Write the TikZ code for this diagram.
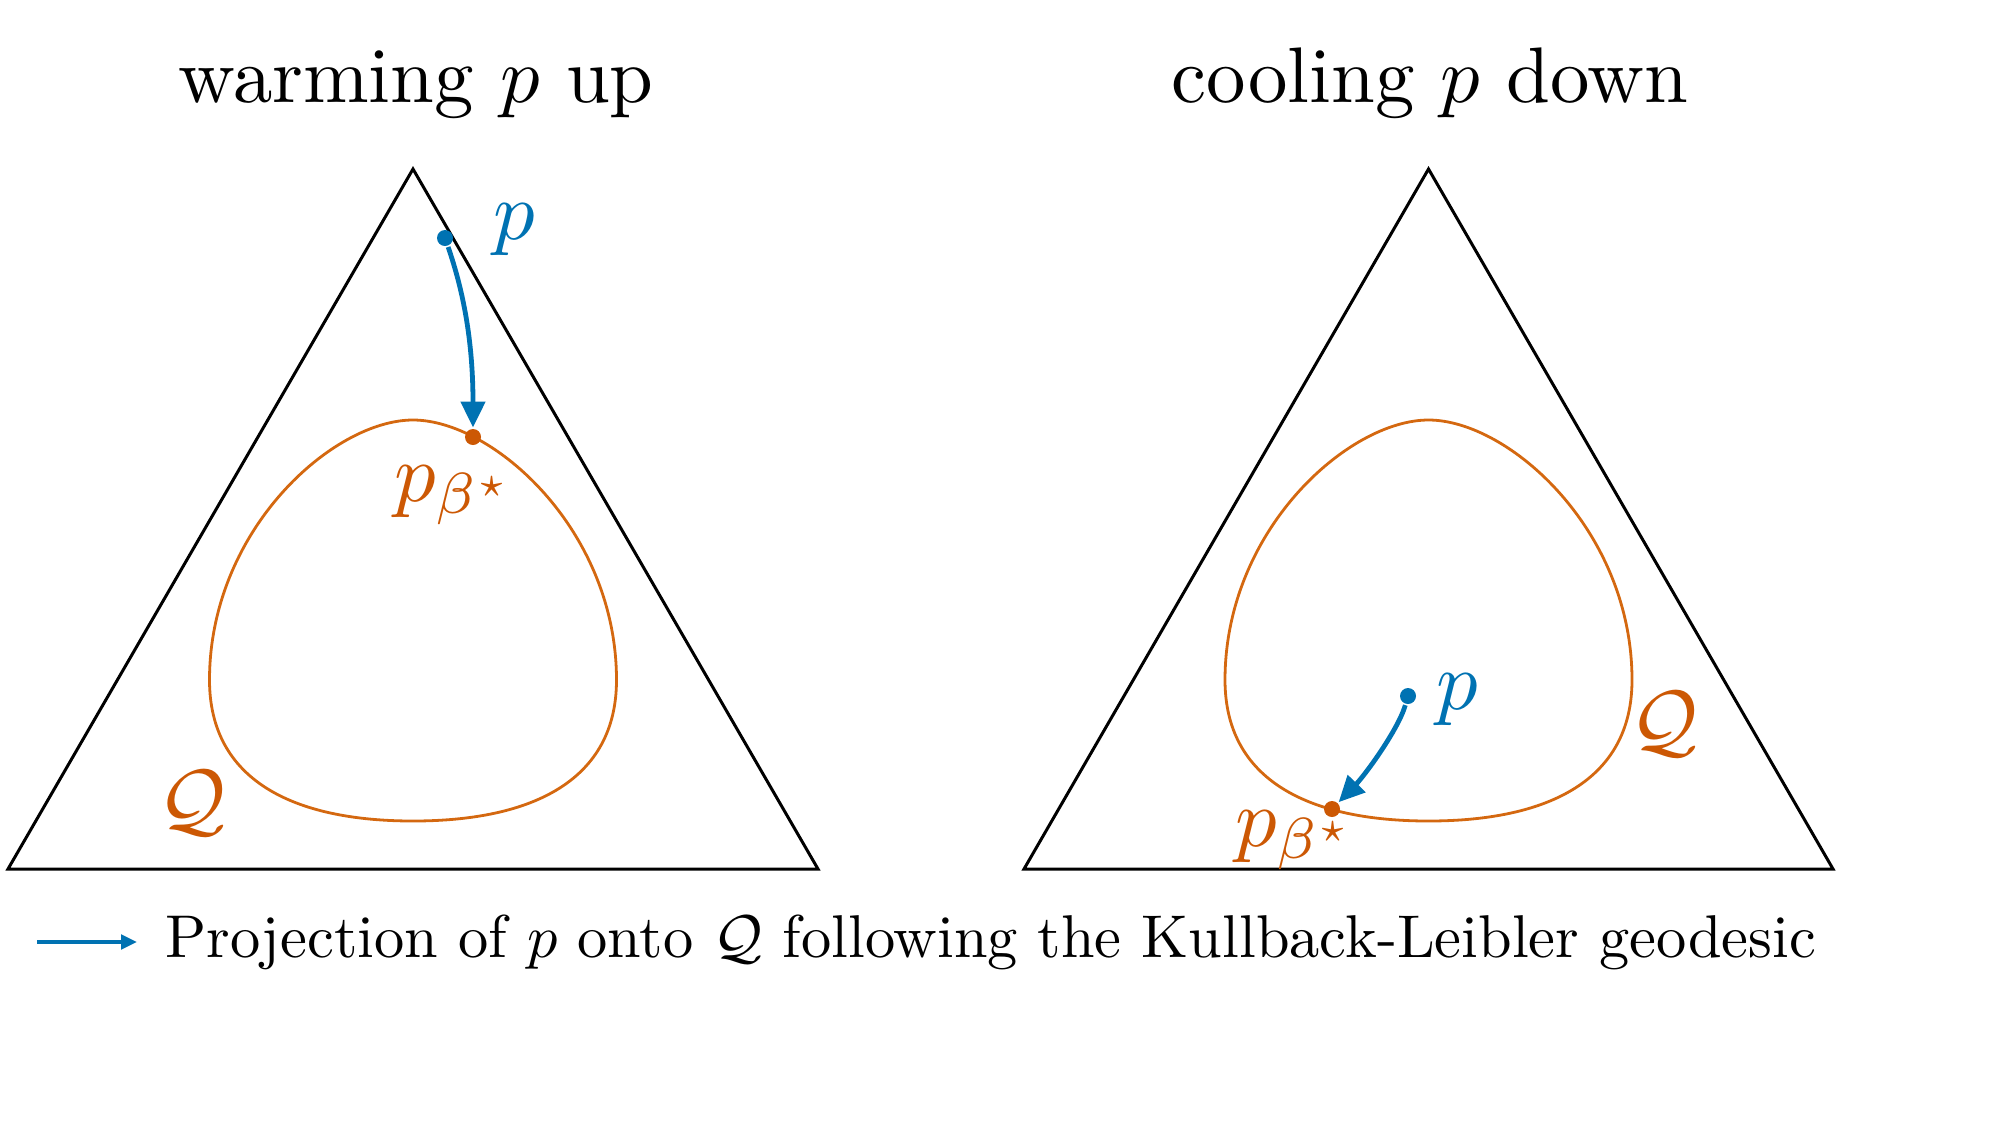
\documentclass[tikz,border=0pt]{standalone}
\usepackage{amsmath}
\usetikzlibrary{arrows.meta}
\definecolor{geoblue}{RGB}{0,114,178}
\definecolor{qorange}{RGB}{204,88,4}
\definecolor{qcurve}{RGB}{212,104,16}
\tikzset{
	dotnode/.style={circle,inner sep=0pt,minimum size=4pt},
	geoarrow/.style={geoblue,line width=1.2pt,-{Triangle[length=6.5pt,width=6pt]}},
	qloop/.style={qcurve,line width=0.7pt},
	biglabel/.style={font=\normalsize,scale=2.07,inner sep=0pt},
	titletext/.style={font=\normalsize,scale=1.97,inner sep=0pt,anchor=base}}
\tikzset{every picture/.style={line width=0.75pt}}

\begin{document}
\begin{tikzpicture}[x=0.25pt,y=0.25pt,yscale=-1,xscale=1]
	\useasboundingbox (0,0) rectangle (2000,1125);

	%Titles
	\node[titletext] (warmtitle) at (416,102) {warming $p$ up};
	\node[titletext] (cooltitle) at (1430,102) {cooling $p$ down};

	%Shape: Triangle (left)
	\draw   (413,169) -- (818,869) -- (8,869) -- cycle ;
	%Shape: Triangle (right)
	\draw   (1428.5,169) -- (1833,869) -- (1024,869) -- cycle ;

	%Curve Lines (left Q)
	\draw [qloop]   (413,420) .. controls (493,420) and (616.5,530) .. (616.5,680) .. controls (616.5,780) and (533,821) .. (413,821) .. controls (293,821) and (209.5,780) .. (209.5,680) .. controls (209.5,530) and (333,420) .. (413,420) -- cycle ;
	%Curve Lines (right Q)
	\draw [qloop]   (1428.5,420) .. controls (1508.5,420) and (1632,530) .. (1632,680) .. controls (1632,780) and (1548.5,821) .. (1428.5,821) .. controls (1308.5,821) and (1225,780) .. (1225,680) .. controls (1225,530) and (1348.5,420) .. (1428.5,420) -- cycle ;

	%Points (left)
	\node[dotnode,fill=geoblue] (pwarm) at (445,238) {};
	\node[dotnode,fill=qorange] (qwarm) at (473,437) {};
	\node[biglabel,anchor=base west,text=geoblue] (pwarmlbl) at (490,239) {$p$};
	\node[biglabel,anchor=base west,text=qorange] (qwarmlbl) at (391,501) {$p_{\beta^\star}$};
	\node[biglabel,text=qorange] (Qwarm) at (192,803) {$\mathcal{Q}$};
	%Curve Lines (left projection)
	\draw [geoarrow]   (pwarm) .. controls (463,290) and (473,340) .. (qwarm) ;

	%Points (right)
	\node[dotnode,fill=geoblue] (pcool) at (1408,696) {};
	\node[dotnode,fill=qorange] (qcool) at (1332,809) {};
	\node[biglabel,anchor=base west,text=geoblue] (pcoollbl) at (1433,709) {$p$};
	\node[biglabel,anchor=base west,text=qorange] (qcoollbl) at (1232,846) {$p_{\beta^\star}$};
	\node[biglabel,text=qorange] (Qcool) at (1664,724) {$\mathcal{Q}$};
	%Curve Lines (right projection)
	\draw [geoarrow]   (pcool) .. controls (1398,730) and (1365,775) .. (qcool) ;

	%Legend
	\coordinate (legstart) at (37,942);
	\coordinate (legend) at (137,942);
	\draw [geoblue,line width=1pt,-{Triangle[length=4pt,width=3.6pt]}]   (legstart) -- (legend) ;
	\node[anchor=base west,inner sep=0pt,font=\normalsize,scale=1.51] (legtext) at (163,957) {Projection of $p$ onto $\mathcal{Q}$ following the Kullback-Leibler geodesic};

\end{tikzpicture}
\end{document}
